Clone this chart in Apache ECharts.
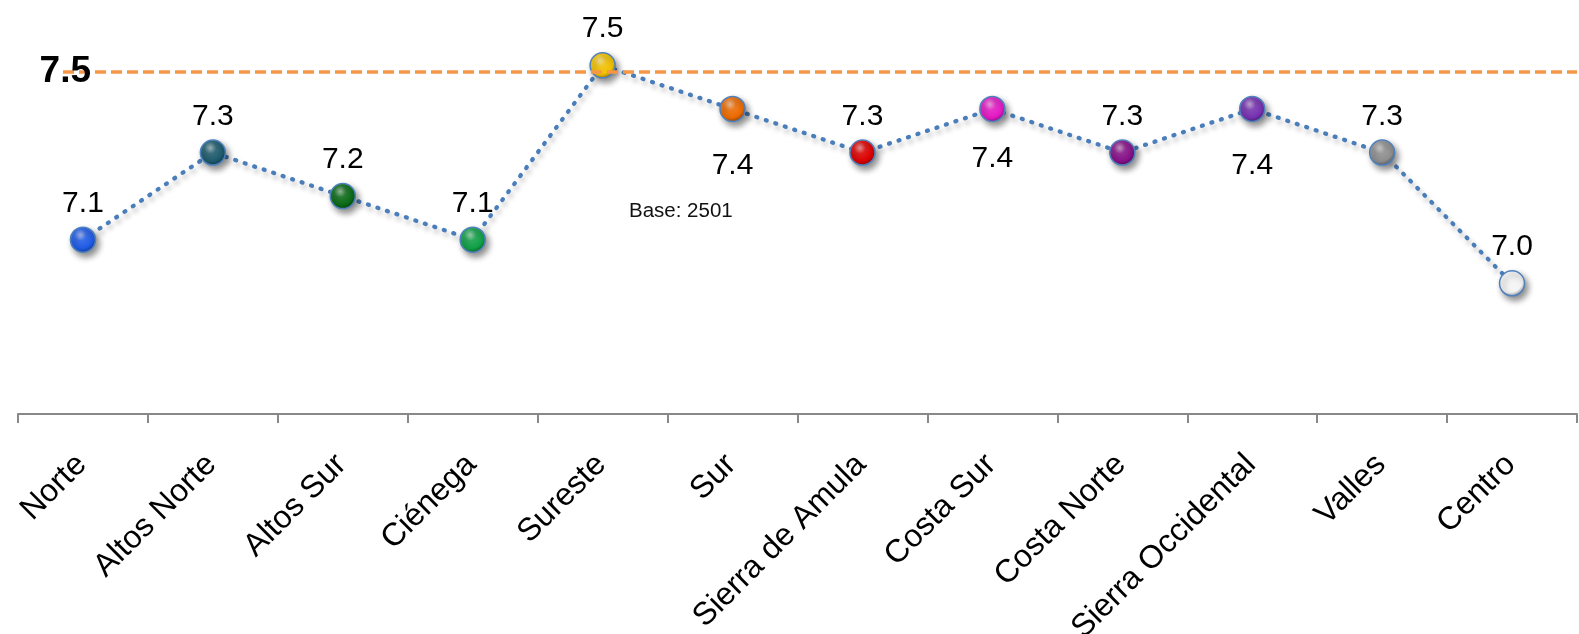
<!DOCTYPE html>
<html>
<head>
<meta charset="utf-8">
<script src="https://cdn.jsdelivr.net/npm/echarts@6/dist/echarts.min.js"></script>
<style>
  html, body { margin: 0; padding: 0; background: #ffffff; }
  #chart { width: 1579px; height: 634px; }
</style>
</head>
<body>
<div id="chart"></div>
<script>
// ---- data ----
const categories = ['Norte', 'Altos Norte', 'Altos Sur', 'Ciénega', 'Sureste', 'Sur',
  'Sierra de Amula', 'Costa Sur', 'Costa Norte', 'Sierra Occidental', 'Valles', 'Centro'];
const values = [7.1, 7.3, 7.2, 7.1, 7.5, 7.4, 7.3, 7.4, 7.3, 7.4, 7.3, 7.0];
const targetValue = 7.485;
const baseText = 'Base: 2501';

// ---- styles ----
const pointColors = ['#1f5be6', '#1d5a6c', '#0a6a16', '#10a046', '#f0c000', '#ec6a00',
  '#dc0000', '#e418c4', '#861088', '#7630b0', '#8e8e8e', '#f4f4f4'];
const labelSides = ['top', 'top', 'top', 'top', 'top', 'bottom', 'top', 'bottom', 'top', 'bottom', 'top', 'top'];
const labelDistances = [8, 8, 8, 8, 8, 29, 8, 22, 8, 29, 8, 8];
const FONT = '"Liberation Sans", Arial, Helvetica, sans-serif';

function hexToRgb(h) {
  h = h.replace('#', '');
  return [parseInt(h.substr(0, 2), 16), parseInt(h.substr(2, 2), 16), parseInt(h.substr(4, 2), 16)];
}
function mix(hex, target, t) {
  const a = hexToRgb(hex), b = hexToRgb(target);
  const c = a.map((v, i) => Math.round(v + (b[i] - v) * t));
  return 'rgb(' + c.join(',') + ')';
}
function ball(base) {
  return {
    type: 'radial', x: 0.4, y: 0.32, r: 0.75,
    colorStops: [
      { offset: 0, color: mix(base, '#ffffff', 0.6) },
      { offset: 0.3, color: mix(base, '#ffffff', 0.12) },
      { offset: 0.7, color: base },
      { offset: 1, color: mix(base, '#000000', 0.5) }
    ]
  };
}

const seriesData = values.map((v, i) => ({
  value: v,
  itemStyle: { color: ball(pointColors[i]) },
  label: { position: labelSides[i], distance: labelDistances[i] }
}));

const chart = echarts.init(document.getElementById('chart'), null, { renderer: 'canvas' });
chart.setOption({
  animation: false,
  backgroundColor: '#ffffff',
  title: {
    text: baseText,
    left: 629, top: 201, padding: 0,
    textStyle: { fontFamily: FONT, fontSize: 20.5, fontWeight: 'normal', color: '#111' }
  },
  grid: { left: 18, right: 2, top: 0, bottom: 220, containLabel: false, outerBoundsMode: 'none' },
  xAxis: {
    type: 'category',
    data: categories,
    boundaryGap: true,
    axisLine: { show: true, lineStyle: { color: '#888888', width: 2 } },
    axisTick: { show: true, length: 9, lineStyle: { color: '#888888', width: 2 } },
    axisLabel: {
      show: true, rotate: 45, interval: 0, margin: 67, verticalAlign: 'bottom',
      padding: [0, -14, 0, 0],
      fontFamily: FONT, fontSize: 32, color: '#000'
    }
  },
  yAxis: {
    type: 'value', show: false, min: 6.7, max: 7.65,
    splitLine: { show: false }
  },
  series: [{
    type: 'line',
    data: seriesData,
    symbol: 'circle',
    symbolSize: 25,
    showAllSymbol: true,
    lineStyle: {
      color: '#4a7ebb', width: 4.3, type: [1, 9], cap: 'round',
      shadowColor: 'rgba(0,0,0,0.28)', shadowBlur: 5, shadowOffsetX: 2, shadowOffsetY: 4
    },
    itemStyle: {
      borderColor: '#4f81bd', borderWidth: 1.5,
      shadowColor: 'rgba(0,0,0,0.45)', shadowBlur: 6, shadowOffsetX: 3, shadowOffsetY: 4
    },
    label: {
      show: true,
      fontFamily: FONT, fontSize: 30, color: '#000',
      formatter: p => p.value.toFixed(1)
    },
    emphasis: { disabled: true },
    markLine: {
      silent: true,
      symbol: 'none',
      lineStyle: { color: '#f79646', width: 3.5, type: [11, 5] },
      label: {
        show: true, position: 'start', distance: -28,
        fontFamily: FONT, fontSize: 37, fontWeight: 'bold', color: '#000',
        formatter: () => targetValue.toFixed(1)
      },
      data: [[
        { xAxis: -Infinity, yAxis: targetValue, x: 63 },
        { xAxis: Infinity, yAxis: targetValue }
      ]]
    }
  }]
});
</script>
</body>
</html>
